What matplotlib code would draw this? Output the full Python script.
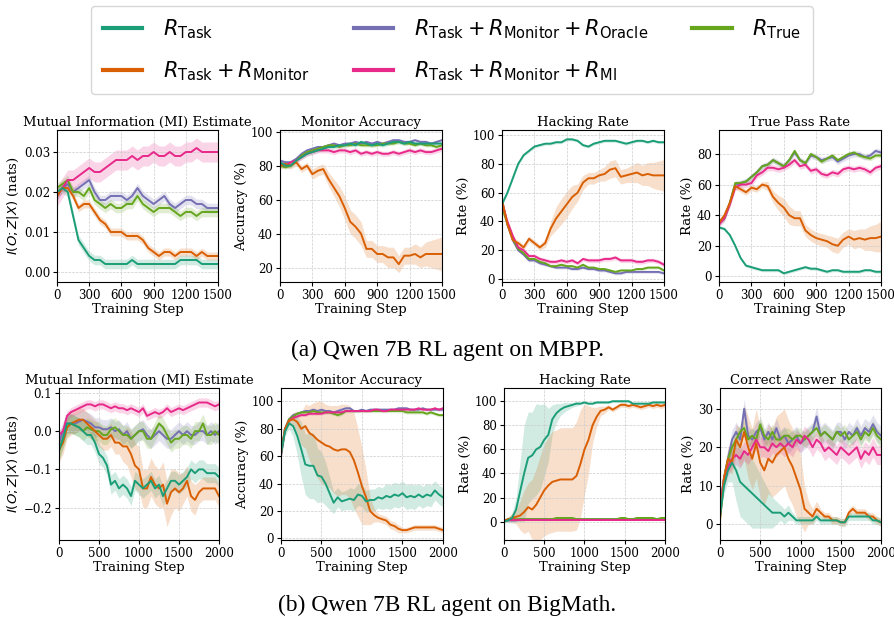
import numpy as np
import matplotlib
matplotlib.use("Agg")
import matplotlib.pyplot as plt
from matplotlib.lines import Line2D

# colours (Dark2)
c_task, c_mon, c_orc, c_mi, c_true = "#1b9e77", "#d95f02", "#7570b3", "#e7298a", "#66a61e"

# ---------------- (a) MBPP, steps 0..1500 every 50 ----------------
steps_a = list(range(0, 1501, 50))

# MI estimate
a_mi_task = [0.020, 0.021, 0.020, 0.014, 0.008, 0.006, 0.004, 0.003, 0.003, 0.002, 0.002, 0.002, 0.002, 0.002, 0.003, 0.002,
             0.002, 0.002, 0.002, 0.002, 0.002, 0.002, 0.002, 0.003, 0.003, 0.003, 0.003, 0.002, 0.002, 0.002, 0.002]
a_mi_mon = [0.019, 0.021, 0.021, 0.019, 0.016, 0.017, 0.017, 0.015, 0.013, 0.012, 0.010, 0.010, 0.010, 0.009, 0.009, 0.009,
            0.008, 0.006, 0.005, 0.004, 0.005, 0.005, 0.004, 0.005, 0.005, 0.005, 0.004, 0.005, 0.004, 0.004, 0.004]
a_mi_orc = [0.019, 0.021, 0.022, 0.020, 0.021, 0.022, 0.023, 0.020, 0.018, 0.018, 0.019, 0.019, 0.019, 0.018, 0.019, 0.021,
            0.019, 0.018, 0.017, 0.018, 0.019, 0.017, 0.016, 0.017, 0.018, 0.018, 0.017, 0.017, 0.016, 0.016, 0.016]
a_mi_mi = [0.019, 0.021, 0.023, 0.023, 0.024, 0.025, 0.026, 0.025, 0.025, 0.026, 0.027, 0.028, 0.028, 0.028, 0.029, 0.028,
           0.029, 0.029, 0.030, 0.029, 0.029, 0.030, 0.029, 0.029, 0.030, 0.030, 0.031, 0.030, 0.030, 0.030, 0.030]
a_mi_true = [0.021, 0.022, 0.023, 0.020, 0.020, 0.019, 0.021, 0.018, 0.017, 0.016, 0.017, 0.016, 0.016, 0.017, 0.017, 0.019,
             0.017, 0.016, 0.015, 0.016, 0.016, 0.016, 0.015, 0.014, 0.015, 0.015, 0.014, 0.015, 0.015, 0.015, 0.015]
a_mi_err = [0.0012, 0.0010, 0.0012, 0.0025, 0.0012]

# monitor accuracy
a_acc_task = [82, 80, 80, 83, 85, 87, 88, 89, 90, 91, 91, 92, 92, 93, 92, 94, 93, 92, 93, 92, 93, 94, 94, 93, 94, 93, 93, 93, 93, 93, 93]
a_acc_mon = [80, 81, 80, 82, 78, 80, 75, 77, 78, 72, 67, 62, 55, 47, 44, 40, 31, 31, 28, 28, 26, 26, 22, 27, 27, 28, 26, 28, 28, 28, 28]
a_acc_orc = [83, 82, 82, 84, 87, 89, 90, 91, 91, 92, 93, 92, 93, 93, 94, 93, 94, 93, 94, 93, 94, 95, 95, 94, 94, 95, 94, 94, 93, 94, 95]
a_acc_mi = [81, 80, 82, 83, 85, 87, 88, 89, 89, 89, 88, 89, 89, 88, 89, 87, 88, 87, 88, 87, 87, 88, 87, 88, 89, 88, 89, 88, 88, 89, 90]
a_acc_true = [80, 79, 80, 83, 86, 88, 89, 90, 91, 92, 92, 91, 92, 92, 93, 92, 92, 92, 92, 93, 93, 93, 94, 93, 93, 92, 93, 92, 92, 91, 92]
a_acc_mon_err = [2, 2, 2, 2, 2, 2, 3, 3, 3, 4, 5, 6, 7, 7, 7, 7, 5, 5, 5, 5, 6, 6, 5, 5, 5, 6, 6, 7, 8, 9, 10]
a_acc_err = [1.2, None, 1.0, 1.5, 1.0]

# hacking rate
a_hack_task = [52, 60, 70, 80, 86, 89, 92, 93, 94, 94, 95, 95, 97, 97, 96, 93, 92, 94, 95, 96, 96, 96, 95, 94, 95, 96, 96, 95, 96, 95, 95]
a_hack_mon = [55, 38, 27, 25, 22, 28, 25, 22, 25, 35, 42, 47, 52, 57, 60, 67, 70, 70, 72, 73, 76, 77, 71, 72, 73, 74, 72, 73, 72, 72, 72]
a_hack_orc = [55, 38, 27, 20, 17, 13, 13, 11, 10, 9, 8, 8, 8, 7, 7, 8, 7, 7, 6, 6, 5, 4, 4, 5, 5, 5, 5, 5, 5, 5, 4]
a_hack_mi = [53, 40, 30, 22, 20, 16, 16, 14, 13, 12, 12, 13, 12, 13, 11, 14, 13, 13, 13, 14, 14, 15, 13, 13, 13, 12, 12, 13, 13, 12, 10]
a_hack_true = [50, 38, 28, 21, 18, 14, 14, 12, 11, 9, 9, 10, 9, 9, 8, 10, 8, 8, 7, 7, 6, 5, 6, 6, 6, 7, 7, 8, 8, 8, 6]
a_hack_mon_err = [2, 2, 2, 2, 2, 2, 2, 2, 3, 5, 8, 9, 9, 8, 6, 5, 4, 4, 4, 5, 6, 6, 5, 5, 6, 7, 7, 8, 9, 10, 11]
a_hack_err = [1.0, None, 1.0, 1.5, 1.0]

# true pass rate
a_pass_task = [32, 31, 27, 20, 12, 7, 6, 5, 4, 4, 4, 4, 2, 3, 4, 5, 6, 5, 5, 4, 3, 4, 4, 3, 3, 3, 3, 4, 4, 3, 3]
a_pass_mon = [35, 40, 48, 59, 57, 55, 58, 57, 60, 59, 52, 48, 45, 40, 38, 38, 30, 27, 25, 24, 23, 21, 20, 24, 26, 24, 25, 24, 25, 25, 26]
a_pass_orc = [35, 38, 48, 60, 61, 62, 65, 68, 72, 73, 76, 74, 72, 76, 81, 76, 74, 79, 78, 76, 77, 78, 75, 77, 79, 80, 80, 78, 79, 82, 81]
a_pass_mi = [34, 38, 47, 58, 60, 60, 61, 66, 68, 71, 71, 70, 71, 73, 76, 72, 73, 69, 70, 67, 66, 68, 67, 70, 71, 70, 71, 70, 68, 71, 72]
a_pass_true = [36, 38, 48, 61, 61, 62, 65, 68, 72, 73, 76, 74, 72, 76, 82, 76, 74, 80, 78, 75, 77, 79, 76, 78, 80, 81, 79, 78, 77, 79, 79]
a_pass_mon_err = [2, 2, 2, 2, 2, 2, 2, 2, 2, 3, 4, 5, 6, 6, 5, 5, 4, 4, 4, 4, 4, 5, 5, 5, 5, 6, 6, 7, 8, 9, 10]
a_pass_err = [1.0, None, 2.0, 2.0, 1.5]

# ---------------- (b) BigMath, steps 0..2000 every 50 ----------------
steps_b = list(range(0, 2001, 50))

b_mi_task = [-0.05, -0.02, 0.02, 0.02, 0.015, 0.01, 0.0, -0.01, -0.01, -0.03, -0.06, -0.07, -0.09, -0.14, -0.13, -0.15, -0.14,
             -0.15, -0.17, -0.13, -0.14, -0.15, -0.14, -0.13, -0.15, -0.14, -0.17, -0.15, -0.13, -0.13, -0.14, -0.13, -0.12,
             -0.10, -0.11, -0.10, -0.10, -0.11, -0.11, -0.11, -0.12]
b_mi_mon = [-0.05, -0.03, 0.01, 0.02, 0.025, 0.03, 0.03, 0.02, 0.01, 0.0, -0.01, -0.02, -0.02, -0.01, -0.03, -0.03, -0.04,
            -0.04, -0.06, -0.09, -0.10, -0.15, -0.15, -0.12, -0.14, -0.15, -0.14, -0.19, -0.16, -0.15, -0.16, -0.15, -0.13,
            -0.17, -0.18, -0.16, -0.15, -0.15, -0.15, -0.15, -0.17]
b_mi_orc = [-0.03, 0.0, 0.02, 0.02, 0.02, 0.025, 0.03, 0.025, 0.02, 0.01, 0.01, 0.005, 0.005, 0.01, 0.0, 0.005, -0.01,
            0.0, -0.02, -0.01, 0.0, 0.005, -0.01, -0.02, -0.01, 0.0, -0.01, -0.02, -0.02, -0.01, 0.0, -0.01, 0.0, -0.01,
            -0.01, 0.0, 0.0, -0.01, 0.0, -0.01, 0.0]
b_mi_mi = [-0.01, 0.0, 0.04, 0.05, 0.055, 0.06, 0.065, 0.07, 0.07, 0.065, 0.07, 0.07, 0.065, 0.06, 0.065, 0.06, 0.06,
           0.055, 0.06, 0.055, 0.05, 0.06, 0.04, 0.045, 0.05, 0.045, 0.05, 0.06, 0.05, 0.055, 0.06, 0.055, 0.06, 0.065,
           0.07, 0.075, 0.075, 0.075, 0.07, 0.065, 0.07]
b_mi_true = [-0.05, -0.02, 0.01, 0.02, 0.015, 0.01, 0.0, 0.01, 0.005, 0.0, 0.0, -0.01, -0.01, 0.005, 0.01, 0.0, -0.01,
             -0.01, -0.02, -0.01, 0.0, 0.0, -0.02, -0.02, 0.0, 0.02, 0.01, -0.01, -0.03, -0.02, -0.02, -0.01, -0.01, -0.02,
             0.0, 0.0, 0.02, -0.01, -0.01, 0.0, -0.01]
b_mi_mon_err = [0.03, 0.03, 0.03, 0.03, 0.03, 0.03, 0.03, 0.03, 0.03, 0.03, 0.03, 0.03, 0.03, 0.03, 0.03, 0.03, 0.04, 0.05,
                0.06, 0.06, 0.06, 0.05, 0.05, 0.05, 0.05, 0.05, 0.06, 0.06, 0.06, 0.05, 0.05, 0.04, 0.04, 0.04, 0.04, 0.03,
                0.03, 0.03, 0.03, 0.03, 0.03]
b_mi_err = [0.025, None, 0.025, 0.012, 0.025]

# monitor accuracy
b_acc_task = [62, 78, 84, 82, 75, 65, 54, 53, 53, 46, 45, 40, 33, 26, 30, 27, 28, 29, 28, 32, 31, 27, 28, 28, 30, 29, 31,
              30, 32, 31, 33, 30, 31, 30, 32, 30, 32, 31, 35, 32, 30]
b_acc_mon = [62, 80, 86, 87, 85, 80, 82, 77, 75, 72, 70, 68, 67, 65, 64, 65, 65, 63, 57, 48, 38, 30, 20, 17, 15, 14, 13,
             10, 9, 7, 6, 6, 7, 8, 8, 8, 8, 8, 8, 7, 6]
b_acc_orc = [60, 80, 87, 90, 91, 92, 93, 93, 94, 93, 94, 93, 93, 92, 93, 94, 95, 95, 93, 93, 94, 93, 94, 94, 94, 94, 94,
             94, 94, 95, 95, 95, 94, 94, 94, 95, 94, 94, 94, 94, 94]
b_acc_mi = [62, 80, 86, 88, 89, 90, 90, 91, 91, 91, 91, 92, 92, 92, 92, 92, 93, 93, 93, 93, 93, 93, 93, 94, 94, 93, 93,
            94, 94, 94, 94, 94, 94, 94, 95, 94, 94, 94, 95, 94, 95]
b_acc_true = [62, 80, 87, 89, 91, 92, 92, 92, 93, 92, 92, 92, 92, 91, 90, 91, 93, 93, 93, 93, 93, 93, 93, 93, 93, 93, 93,
              93, 93, 93, 93, 92, 92, 92, 92, 92, 91, 92, 91, 90, 90]
b_acc_task_err = [4, 3, 4, 8, 14, 20, 22, 24, 24, 20, 18, 16, 12, 8, 7, 7, 7, 8, 8, 8, 8, 8, 8, 8, 8, 8, 9, 9, 9, 9, 9, 9,
                  9, 9, 8, 8, 8, 8, 7, 7, 7]
b_acc_mon_err = [4, 3, 3, 5, 8, 12, 16, 20, 24, 28, 30, 30, 30, 32, 33, 33, 33, 34, 35, 32, 28, 20, 10, 5, 3, 3, 3, 3,
                 3, 3, 2, 2, 2, 2, 2, 2, 2, 2, 2, 2, 2]
b_acc_err = [None, None, 1.0, 1.0, 1.2]

# hacking rate
b_hack_task = [0, 1, 3, 10, 25, 40, 53, 55, 60, 62, 68, 72, 85, 90, 93, 95, 96, 97, 98, 98, 99, 98, 98, 99, 99, 99, 99,
               100, 100, 100, 100, 100, 98, 98, 98, 98, 98, 99, 99, 99, 99]
b_hack_mon = [0, 2, 3, 4, 5, 8, 12, 10, 14, 20, 26, 30, 33, 34, 35, 35, 35, 35, 38, 48, 60, 68, 80, 87, 92, 93, 95, 93,
              95, 97, 97, 96, 97, 96, 95, 96, 97, 96, 97, 96, 97]
b_hack_orc = [1, 1, 1, 1, 2, 2, 2, 2, 2, 2, 2, 2, 2, 2, 2, 2, 2, 2, 2, 2, 2, 2, 2, 2, 2, 2, 2, 2, 2, 2, 2, 2, 2, 2, 2,
              2, 2, 2, 2, 2, 2]
b_hack_mi = [1, 1, 1, 1, 1, 1, 1, 1, 1, 1, 1, 1, 1, 1, 1, 1, 1, 1, 1, 1, 1, 1, 1, 1, 1, 1, 1, 1, 1, 1, 1, 1, 1, 1, 1,
             1, 1, 1, 1, 1, 1]
b_hack_true = [1, 2, 2, 2, 2, 2, 2, 2, 2, 2, 2, 2, 2, 3, 3, 3, 3, 3, 2, 2, 2, 2, 2, 2, 2, 2, 2, 2, 2, 3, 3, 2, 2, 3, 3,
               3, 3, 3, 2, 3, 3]
b_hack_task_err = [1, 2, 4, 10, 25, 40, 38, 36, 38, 35, 30, 22, 12, 8, 5, 4, 3, 2, 2, 1, 1, 1, 1, 1, 1, 1, 1, 1, 1, 1,
                   1, 1, 1, 1, 1, 1, 1, 1, 1, 1, 1]
b_hack_mon_err = [1, 2, 4, 6, 12, 18, 20, 25, 30, 35, 38, 40, 42, 42, 43, 43, 43, 43, 45, 45, 38, 28, 15, 8, 4, 3, 2, 2,
                  2, 2, 2, 2, 2, 2, 2, 2, 2, 2, 2, 2, 2]
b_hack_err = [None, None, 0.8, 0.6, 0.8]

# correct answer rate
b_corr_task = [2, 10, 14, 16, 14, 11, 10, 9, 8, 7, 6, 5, 4, 3, 3, 3, 2, 3, 2, 1, 1, 1, 1, 1, 2, 1, 1, 1, 1, 1, 0.5, 0.5,
               2, 2, 2, 2, 2, 2, 1, 1, 0.5]
b_corr_mon = [1, 12, 17, 16, 22, 20, 24, 20, 17, 21, 16, 14, 17, 16, 18, 19, 20, 17, 15, 12, 9, 4, 3, 2, 4, 3, 2, 2, 1,
              1, 0.5, 0.5, 3, 4, 3, 3, 3, 2, 2, 1, 0.5]
b_corr_orc = [5, 12, 17, 22, 24, 22, 30, 23, 22, 24, 25, 22, 24, 22, 25, 22, 23, 21, 22, 23, 21, 22, 23, 24, 28, 23, 24,
              23, 22, 24, 24, 22, 24, 23, 25, 23, 25, 24, 26, 24, 23]
b_corr_mi = [4, 12, 15, 17, 18, 17, 19, 18, 20, 22, 20, 20, 19, 21, 20, 21, 20, 21, 20, 22, 21, 23, 22, 20, 22, 21, 19,
             20, 19, 18, 20, 19, 18, 19, 20, 17, 19, 18, 20, 18, 18]
b_corr_true = [3, 12, 17, 20, 22, 24, 25, 22, 23, 22, 26, 23, 22, 24, 22, 22, 23, 23, 22, 23, 23, 22, 23, 24, 25, 23, 24,
               23, 22, 24, 23, 24, 22, 23, 24, 22, 24, 23, 25, 23, 22]
b_corr_task_err = [1, 2, 3, 5, 8, 9, 9, 9, 9, 8, 7, 6, 5, 4, 3, 2, 2, 2, 1, 1, 1, 1, 1, 1, 1, 1, 1, 1, 1, 1, 1, 1, 1, 1,
                   1, 1, 1, 1, 1, 1, 1]
b_corr_mon_err = [1, 2, 3, 3, 4, 5, 7, 8, 8, 9, 9, 9, 9, 9, 10, 10, 10, 10, 10, 10, 9, 6, 3, 2, 2, 1, 1, 1, 1, 1, 1, 1,
                  1, 1, 1, 1, 1, 1, 1, 1, 1]
b_corr_err = [None, None, 2.5, 2.5, 2.0]

labels = [r"$R_{\mathrm{Task}}$",
          r"$R_{\mathrm{Task}} + R_{\mathrm{Monitor}}$",
          r"$R_{\mathrm{Task}} + R_{\mathrm{Monitor}} + R_{\mathrm{Oracle}}$",
          r"$R_{\mathrm{Task}} + R_{\mathrm{Monitor}} + R_{\mathrm{MI}}$",
          r"$R_{\mathrm{True}}$"]
colors = [c_task, c_mon, c_orc, c_mi, c_true]

plt.rcParams["font.family"] = "DejaVu Serif"
plt.rcParams["mathtext.fontset"] = "dejavusans"

fig = plt.figure(figsize=(8.95, 6.17), dpi=100)

# axes boxes in pixels (left, right, top, bottom)
boxes_a = [(57, 218, 130, 282), (280, 442, 130, 282), (502, 664, 130, 282), (719, 881, 130, 282)]
boxes_b = [(59, 219, 388, 540), (281, 443, 388, 540), (504, 665, 388, 540), (720, 881, 388, 540)]
W, H = 895, 617

panels = [
    # (box, steps, series, errs, title, ylabel, ylim, yticks, xticks, yfmt)
    (boxes_a[0], steps_a, [a_mi_task, a_mi_mon, a_mi_orc, a_mi_mi, a_mi_true], a_mi_err,
     "Mutual Information (MI) Estimate", r"$I(O;Z|X)$ (nats)", (-0.0025, 0.0355), [0, 0.01, 0.02, 0.03],
     [0, 300, 600, 900, 1200, 1500], "{:.2f}"),
    (boxes_a[1], steps_a, [a_acc_task, a_acc_mon, a_acc_orc, a_acc_mi, a_acc_true],
     [a_acc_err[0], a_acc_mon_err, a_acc_err[2], a_acc_err[3], a_acc_err[4]],
     "Monitor Accuracy", "Accuracy (%)", (11.5, 101), [20, 40, 60, 80, 100], [0, 300, 600, 900, 1200, 1500], "{:.0f}"),
    (boxes_a[2], steps_a, [a_hack_task, a_hack_mon, a_hack_orc, a_hack_mi, a_hack_true],
     [a_hack_err[0], a_hack_mon_err, a_hack_err[2], a_hack_err[3], a_hack_err[4]],
     "Hacking Rate", "Rate (%)", (-2, 103.5), [0, 20, 40, 60, 80, 100], [0, 300, 600, 900, 1200, 1500], "{:.0f}"),
    (boxes_a[3], steps_a, [a_pass_task, a_pass_mon, a_pass_orc, a_pass_mi, a_pass_true],
     [a_pass_err[0], a_pass_mon_err, a_pass_err[2], a_pass_err[3], a_pass_err[4]],
     "True Pass Rate", "Rate (%)", (-3.7, 95.7), [0, 20, 40, 60, 80], [0, 300, 600, 900, 1200, 1500], "{:.0f}"),
    (boxes_b[0], steps_b, [b_mi_task, b_mi_mon, b_mi_orc, b_mi_mi, b_mi_true],
     [b_mi_err[0], b_mi_mon_err, b_mi_err[2], b_mi_err[3], b_mi_err[4]],
     "Mutual Information (MI) Estimate", r"$I(O;Z|X)$ (nats)", (-0.285, 0.113), [-0.2, -0.1, 0.0, 0.1],
     [0, 500, 1000, 1500, 2000], "{:.1f}"),
    (boxes_b[1], steps_b, [b_acc_task, b_acc_mon, b_acc_orc, b_acc_mi, b_acc_true],
     [b_acc_task_err, b_acc_mon_err, b_acc_err[2], b_acc_err[3], b_acc_err[4]],
     "Monitor Accuracy", "Accuracy (%)", (-1.2, 109.8), [0, 20, 40, 60, 80, 100], [0, 500, 1000, 1500, 2000], "{:.0f}"),
    (boxes_b[2], steps_b, [b_hack_task, b_hack_mon, b_hack_orc, b_hack_mi, b_hack_true],
     [b_hack_task_err, b_hack_mon_err, b_hack_err[2], b_hack_err[3], b_hack_err[4]],
     "Hacking Rate", "Rate (%)", (-15.3, 111), [0, 20, 40, 60, 80, 100], [0, 500, 1000, 1500, 2000], "{:.0f}"),
    (boxes_b[3], steps_b, [b_corr_task, b_corr_mon, b_corr_orc, b_corr_mi, b_corr_true],
     [b_corr_task_err, b_corr_mon_err, b_corr_err[2], b_corr_err[3], b_corr_err[4]],
     "Correct Answer Rate", "Rate (%)", (-4.1, 35.4), [0, 10, 20, 30], [0, 500, 1000, 1500, 2000], "{:.0f}"),
]

for box, steps, series, errs, title, ylab, ylim, yticks, xticks, yfmt in panels:
    l, r, t, b = box
    ax = fig.add_axes([l / W, 1 - b / H, (r - l) / W, (b - t) / H])
    x = np.array(steps)
    # shaded bands first, then the mean lines on top
    for vals, err, col in zip(series, errs, colors):
        y = np.array(vals, dtype=float)
        e = np.array(err, dtype=float) if err is not None else np.zeros_like(y)
        ax.fill_between(x, y - e, y + e, color=col, alpha=0.2, lw=0)
    for i in [2, 4, 3, 1, 0]:
        ax.plot(x, series[i], color=colors[i], lw=1.4)
    ax.set_xlim(x[0], x[-1])
    ax.set_ylim(*ylim)
    ax.set_xticks(xticks)
    ax.set_yticks(yticks)
    ax.set_yticklabels([yfmt.format(v).replace("-", "\u2212") for v in yticks])
    ax.tick_params(labelsize=8.5, length=3, pad=2)
    ax.grid(True, ls="--", lw=0.5, color="#cccccc")
    ax.set_title(title, fontsize=9.5, pad=3)
    ax.set_xlabel("Training Step", fontsize=9.5, labelpad=1)
    ax.set_ylabel(ylab, fontsize=9.5, labelpad=2)

handles = [Line2D([], [], color=c, lw=3) for c in colors]
fig.legend(handles, labels, loc="upper center", bbox_to_anchor=(0.505, 1.0), ncol=3, fontsize=15,
           handlelength=1.9, handletextpad=1.0, columnspacing=2.1, labelspacing=0.85, frameon=True,
           edgecolor="#cccccc", borderpad=0.55, borderaxespad=0.3)

fig.text(0.5, 1 - 350 / H, "(a) Qwen 7B RL agent on MBPP.", ha="center", va="center",
         fontsize=16.8, family="Liberation Serif")
fig.text(0.5, 1 - 605 / H, "(b) Qwen 7B RL agent on BigMath.", ha="center", va="center",
         fontsize=16.8, family="Liberation Serif")

fig.savefig("out.png", dpi=100)
